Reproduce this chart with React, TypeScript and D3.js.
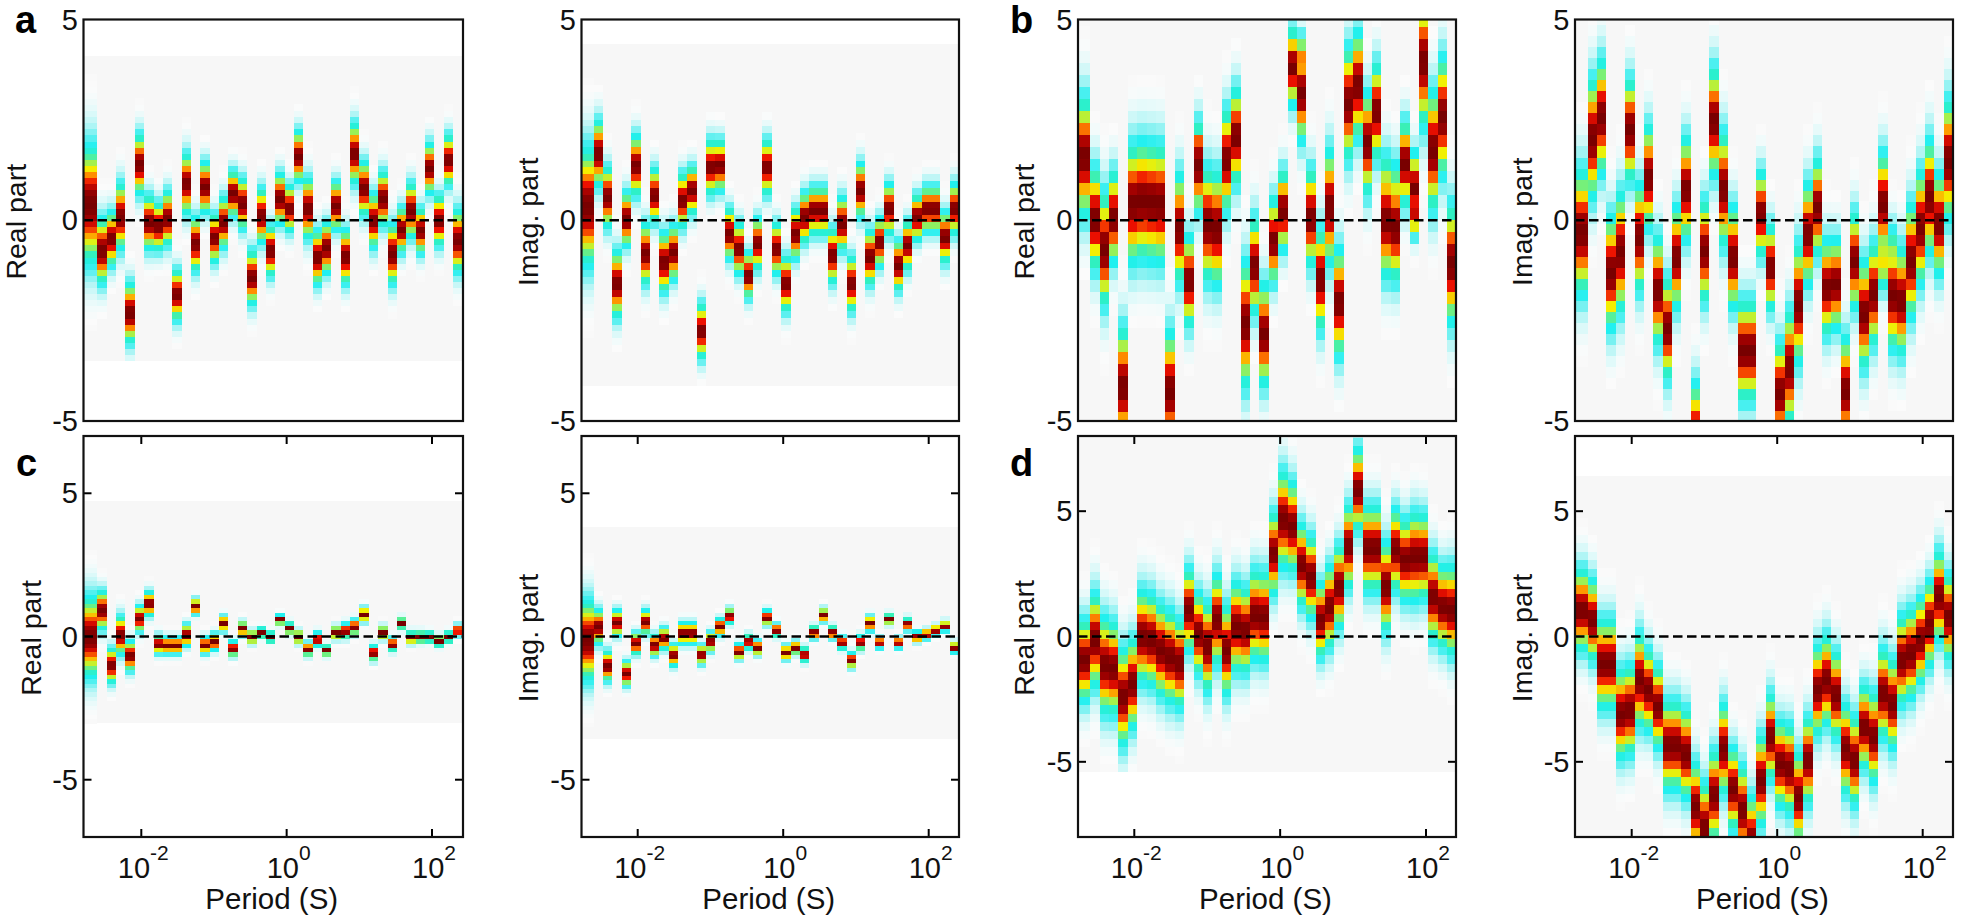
import React from "react";
import * as d3 from "d3";

const periods = [0.00214,0.00288,0.00388,0.00522,0.00702,0.00944,0.0127,0.0171,0.023,0.0309,0.0416,0.056,0.0753,0.101,0.136,0.183,0.247,0.332,0.447,0.6,0.807,1.09,1.46,1.97,2.64,3.56,4.79,6.44,8.67,11.6,15.7,21.1,28.4,38.2,51.3,69,92.9,125,168,226];

const aRealMean = [0.4,-0.75,-0.45,0.1,-2.3,1.4,-0.05,-0.15,0.05,-1.85,0.92,-0.58,0.83,-0.43,-0.05,0.67,0.42,-1.42,0.12,-0.75,0.54,0.3,1.6,0.3,-0.92,-0.68,0.37,-0.9,1.67,0.8,0,0.54,-0.83,-0.23,0.25,-0.25,1.3,0,1.5,-0.5];
const aRealSigma = [1.0,0.55,0.45,0.55,0.5,0.5,0.45,0.4,0.45,0.42,0.5,0.45,0.42,0.4,0.42,0.38,0.42,0.45,0.45,0.42,0.42,0.38,0.42,0.5,0.45,0.42,0.4,0.45,0.5,0.45,0.45,0.45,0.5,0.38,0.45,0.38,0.42,0.42,0.42,0.52];
const aImagMean = [0.35,1.67,0.58,-1.58,0.04,1.37,-0.83,0.62,-1.04,-0.8,0.5,0.75,-2.75,1.33,1.37,-0.33,-0.7,-1.37,-0.58,1.33,-0.7,-1.58,-0.33,0.08,0.25,0.25,-0.87,-0.08,-1.58,0.75,-0.92,-0.54,0.29,-1.12,-0.62,0.08,0.29,0.29,-0.42,0.29];
const aImagSigma = [1.0,0.55,0.5,0.55,0.45,0.5,0.5,0.45,0.5,0.45,0.45,0.4,0.45,0.45,0.42,0.42,0.42,0.38,0.42,0.45,0.42,0.45,0.42,0.42,0.4,0.4,0.45,0.45,0.45,0.45,0.45,0.4,0.42,0.42,0.4,0.38,0.38,0.38,0.42,0.42];

const bRealMean = [1.58,0.04,-0.7,0.08,-4.15,0.42,0.5,0.46,0.42,-4.25,-0.2,-1.5,1.33,-0.1,-0.2,1.5,2.08,-2.58,-1.12,-2.83,-0.5,0.25,3.83,3.17,0.08,-1.46,0.33,-2.04,2.92,3.37,1.92,2.71,0,-0.17,1.42,0.8,3.96,1.75,2.58,-1.08];
const bRealSigma = [1.0,0.85,0.95,0.75,1.0,1.0,1.0,1.0,1.0,1.0,0.9,0.75,0.75,0.95,0.95,0.85,0.8,1.05,0.8,0.85,0.7,0.65,0.65,0.8,0.8,0.85,0.95,0.9,0.95,0.9,0.85,0.8,0.95,0.9,0.7,0.6,1.1,1.0,1.0,1.0];
const bImagMean = [-0.29,2.04,2.58,-1.29,-0.79,2.25,-0.42,1.08,-1.75,-2.7,-0.92,0.79,-5.4,-0.75,2.46,0.79,-0.92,-3.25,-3.25,0.17,-1.17,-4.3,-3.67,-2.08,-0.33,0.33,-1.67,-1.58,-4.25,-1.0,-2.33,-1.83,0.42,-1.87,-2,-1.0,-0.17,0.58,-0.08,1.5];
const bImagSigma = [1.05,1.0,0.95,0.95,1.0,0.85,0.9,0.85,0.9,0.85,0.85,0.85,0.9,0.85,0.9,0.95,0.85,0.85,0.85,0.7,0.7,0.85,0.95,1.0,0.85,0.8,0.8,0.75,0.9,0.8,0.9,0.85,0.85,0.9,0.9,0.95,0.95,0.95,0.85,1.0];

const cRealMean = [0,0.93,-1.0,0.06,-0.67,0.64,1.16,-0.26,-0.3,-0.3,0.06,1.07,-0.29,-0.17,0.47,-0.41,0.29,0,0.15,0,0.6,0.3,0,-0.43,-0.08,-0.47,0.15,0.21,0.35,0.78,-0.56,0.15,-0.26,0.47,-0.02,0,0,-0.14,0,0.23];
const cRealSigma = [0.95,0.45,0.4,0.45,0.35,0.3,0.28,0.22,0.2,0.2,0.25,0.18,0.2,0.2,0.18,0.18,0.16,0.15,0.12,0.12,0.12,0.13,0.15,0.16,0.16,0.13,0.15,0.17,0.17,0.17,0.18,0.15,0.16,0.13,0.14,0.13,0.12,0.13,0.12,0.13];
const cImagMean = [-0.12,0.35,-1.02,0.49,-1.28,-0.23,0.52,-0.29,-0.06,-0.64,0.12,0.12,-0.62,-0.17,0.35,0.73,-0.52,-0.17,-0.38,0.67,0.23,-0.55,-0.38,-0.62,0.15,0.76,0.15,-0.2,-0.81,-0.2,0.47,-0.2,0.62,-0.2,0.44,0,0.09,0.23,0.37,-0.37];
const cImagSigma = [0.95,0.4,0.35,0.3,0.28,0.25,0.28,0.25,0.25,0.25,0.25,0.25,0.22,0.22,0.2,0.18,0.18,0.17,0.17,0.18,0.15,0.17,0.15,0.17,0.15,0.16,0.15,0.15,0.18,0.17,0.18,0.13,0.13,0.13,0.15,0.13,0.12,0.12,0.12,0.12];

const dRealMean = [-0.93,-0.13,-1.13,-1.27,-2.4,-1.87,0,-0.13,-0.53,-0.8,-1.07,1.07,0.13,-0.4,0.67,-0.53,0.4,0.27,0.87,0.8,3.33,4.67,4.4,2.87,2.4,0.67,1.2,2.0,3.6,5.87,3.53,3.53,2.0,3.47,3.07,3.2,3.2,1.6,1.2,1.07];
const dRealSigma = [1.1,1.25,1.3,1.25,1.3,1.2,1.25,1.25,1.25,1.25,1.2,1.1,1.1,1.2,1.2,1.2,1.2,1.15,1.2,1.2,1.1,1.3,1.2,1.1,1.1,1.0,1.1,1.1,1.1,1.1,1.15,1.15,1.2,1.1,1.1,1.2,1.15,1.15,1.1,1.2];
const dImagMean = [1.07,0.67,-1.07,-1.07,-3.07,-2.93,-1.73,-2.13,-2.8,-4.33,-4.33,-4.67,-6.8,-7.6,-6.33,-4.47,-6.07,-6.93,-8.13,-5.73,-4.0,-5.07,-5.27,-6.4,-4.93,-2.13,-1.73,-2.33,-4.47,-4.93,-3.6,-4.0,-2.27,-2.67,-0.93,-0.67,-0.13,0.53,1.6,0.8];
const dImagSigma = [1.1,1.1,1.2,1.2,1.2,1.2,1.25,1.1,1.1,1.2,1.2,1.2,1.2,1.2,1.2,1.2,1.1,1.2,1.2,1.2,1.15,1.15,1.2,1.2,1.15,1.2,1.2,1.15,1.2,1.2,1.1,1.2,1.2,1.2,1.2,1.2,1.15,1.15,1.2,1.15];

// Secondary modes: [column, value, spread, weight]
const bRealSecond: number[][] = [[23, 4.0, 0.45, 0.78], [35, 0.2, 0.4, 0.9], [12, 1.75, 0.4, 0.95], [32, 0.6, 0.8, 0.72], [33, 0.4, 0.8, 0.72]];
const bImagSecond: number[][] = [[32, -1.0, 0.55, 0.68], [33, -0.9, 0.6, 0.6]];
const noSecond: number[][] = [];

const ROWS = 50;
const colorStops = [0, 0.015, 0.06, 0.14, 0.24, 0.34, 0.46, 0.56, 0.67, 0.76, 0.86, 0.94, 1];
const colorValues = ["#f7f7f7", "#fbfbfb", "#e4fafa", "#b4f5f5", "#60f0f0", "#20f0f0", "#30f0c0", "#90f060", "#f4f000", "#ff9000", "#ee1000", "#a00000", "#780000"];
const color = d3.scaleLinear<string>().domain(colorStops).range(colorValues).interpolate(d3.interpolateRgb).clamp(true);

const xTicks = [-2, 0, 2];
const yLabels = [-5, 0, 5];
const FONT = "'Liberation Sans', Arial, sans-serif";

type Panel = {
  letter?: string; letterX?: number; label: string; labelX: number; mean: number[]; sigma: number[]; second: number[][];
  x0: number; x1: number; ticks: [number, number]; y0: number; y1: number;
  yMax: number; grid: [number, number]; bottom: boolean;
};

const TOP = { y0: 19.5, y1: 421, yMax: 5, bottom: false };
const LOW = { y0: 436, y1: 837, bottom: true };
const panels: Panel[] = [
  { ...TOP, letter: "a", letterX: 15, label: "Real part", labelX: 26, mean: aRealMean, sigma: aRealSigma, second: noSecond, x0: 83.5, x1: 463, ticks: [141.3, 432], grid: [-3.5, 4.1] },
  { ...TOP, label: "Imag. part", labelX: 538, mean: aImagMean, sigma: aImagSigma, second: noSecond, x0: 581.5, x1: 959, ticks: [637.7, 928.7], grid: [-4.12, 4.39] },
  { ...TOP, letter: "b", letterX: 1010, label: "Real part", labelX: 1034, mean: bRealMean, sigma: bRealSigma, second: bRealSecond, x0: 1078, x1: 1456, ticks: [1134.3, 1426], grid: [-7.17, 7.83] },
  { ...TOP, label: "Imag. part", labelX: 1531.7, mean: bImagMean, sigma: bImagSigma, second: bImagSecond, x0: 1575, x1: 1953, ticks: [1631.7, 1922.7], grid: [-7.5, 6.25] },
  { ...LOW, letter: "c", letterX: 16, label: "Real part", labelX: 40.7, mean: cRealMean, sigma: cRealSigma, second: noSecond, x0: 83.5, x1: 463, ticks: [141.3, 432], yMax: 7, grid: [-3.02, 4.73] },
  { ...LOW, label: "Imag. part", labelX: 538, mean: cImagMean, sigma: cImagSigma, second: noSecond, x0: 581.5, x1: 959, ticks: [637.7, 928.7], yMax: 7, grid: [-3.58, 3.81] },
  { ...LOW, letter: "d", letterX: 1010, label: "Real part", labelX: 1034, mean: dRealMean, sigma: dRealSigma, second: noSecond, x0: 1078, x1: 1456, ticks: [1134.3, 1426], yMax: 8, grid: [-5.4, 11.27] },
  { ...LOW, label: "Imag. part", labelX: 1531.7, mean: dImagMean, sigma: dImagSigma, second: noSecond, x0: 1575, x1: 1953, ticks: [1631.7, 1922.7], yMax: 8, grid: [-10.27, 6.4] },
];

const bump = (v: number, m: number, s: number, w: number) => w * Math.exp(-0.5 * ((v - m) / s) ** 2);

function PanelView({ p, i }: { p: Panel; i: number }) {
  const x = d3.scaleLog().domain([1e-2, 1e2]).range(p.ticks);
  const y = d3.scaleLinear().domain([-p.yMax, p.yMax]).range([p.y1, p.y0]);
  const edges = periods.map((q, k) => (k === 0 ? p.x0 : x(Math.sqrt(periods[k - 1] * q))));
  edges.push(p.x1);
  const rowH = (p.grid[1] - p.grid[0]) / ROWS;
  const rows = d3.range(ROWS).map((r) => p.grid[0] + rowH * r);
  const clip = `clip${i}`;
  return (
    <g>
      <defs>
        <clipPath id={clip}>
          <rect x={p.x0} y={p.y0} width={p.x1 - p.x0} height={p.y1 - p.y0} />
        </clipPath>
      </defs>
      <g clipPath={`url(#${clip})`} shapeRendering="crispEdges">
        <rect x={p.x0} width={p.x1 - p.x0} y={y(p.grid[1])} height={y(p.grid[0]) - y(p.grid[1])} fill="#f7f7f7" />
        {periods.map((_, c) =>
          rows.map((lo) => {
            const v = lo + rowH / 2;
            let t = bump(v, p.mean[c], p.sigma[c], 1);
            p.second.filter((s) => s[0] === c).forEach((s) => { t = Math.max(t, bump(v, s[1], s[2], s[3])); });
            if (t < 0.006) return null;
            return (
              <rect key={`${c}-${lo}`} x={edges[c]} width={edges[c + 1] - edges[c]} y={y(lo + rowH)} height={y(lo) - y(lo + rowH) + 0.5} fill={color(t)} />
            );
          })
        )}
      </g>
      <line x1={p.x0} x2={p.x1} y1={y(0)} y2={y(0)} stroke="#000" strokeWidth={2.4} strokeDasharray="9.5 4.5" />
      {p.bottom &&
        xTicks.map((e) => (
          <g key={e} stroke="#000" strokeWidth={2}>
            <line x1={x(10 ** e)} x2={x(10 ** e)} y1={p.y0} y2={p.y0 + 8} />
            <line x1={x(10 ** e)} x2={x(10 ** e)} y1={p.y1} y2={p.y1 - 8} />
          </g>
        ))}
      {p.bottom && yLabels.filter((v) => v !== 0).map((v) => (
        <g key={v} stroke="#000" strokeWidth={2}>
          <line x1={p.x0} x2={p.x0 + 8} y1={y(v)} y2={y(v)} />
          <line x1={p.x1} x2={p.x1 - 8} y1={y(v)} y2={y(v)} />
        </g>
      ))}
      <rect x={p.x0} y={p.y0} width={p.x1 - p.x0} height={p.y1 - p.y0} fill="none" stroke="#111" strokeWidth={2.2} />
      {yLabels.map((v) => (
        <text key={v} x={p.x0 - 5.5} y={y(v) + 10} textAnchor="end" fontSize={29} fontFamily={FONT} fill="#111">{v}</text>
      ))}
      <text transform={`translate(${p.labelX},${(p.y0 + p.y1) / 2 + 1.5}) rotate(-90)`} textAnchor="middle" fontSize={28.5} fontFamily={FONT} fill="#111">{p.label}</text>
      {p.bottom &&
        xTicks.map((e) => (
          <text key={e} x={x(10 ** e) + 2} y={878} textAnchor="middle" fontSize={29} fontFamily={FONT} fill="#111">
            10<tspan dy={-18} fontSize={21}>{e}</tspan>
          </text>
        ))}
      {p.bottom && (
        <text x={(p.x0 + p.x1) / 2 - 1.5} y={909} textAnchor="middle" fontSize={29.5} fontFamily={FONT} fill="#111">Period (S)</text>
      )}
      {p.letter && (
        <text x={p.letterX} y={p.bottom ? 476 : 33} fontSize={38} fontWeight="bold" fontFamily={FONT} fill="#000">{p.letter}</text>
      )}
    </g>
  );
}

export default function App() {
  return (
    <svg width={1961} height={920} style={{ position: "absolute", left: 0, top: 0, background: "#fff" }}>
      {panels.map((p, i) => (
        <PanelView key={i} p={p} i={i} />
      ))}
    </svg>
  );
}
